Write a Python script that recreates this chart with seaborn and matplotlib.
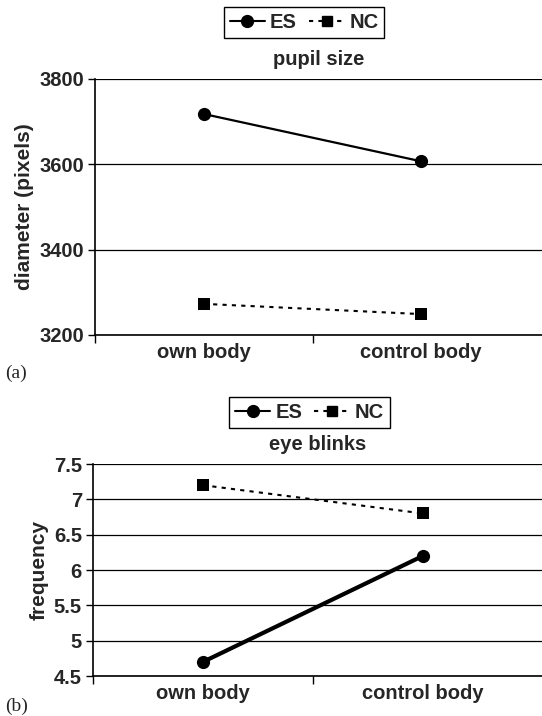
import matplotlib
matplotlib.use("Agg")
import matplotlib.pyplot as plt
import seaborn as sns
import pandas as pd
from matplotlib.ticker import FixedLocator, NullFormatter

sns.set_theme(style="white")
plt.rcParams['font.family'] = ['Liberation Sans', 'DejaVu Sans']

conditions = ["own body", "control body"]
groups = ["ES", "NC"]
pupil_ES = [3718, 3607]
pupil_NC = [3273, 3249]
blink_ES = [4.7, 6.2]
blink_NC = [7.2, 6.8]
pupil_ticks = [3200, 3400, 3600, 3800]
blink_ticks = [4.5, 5, 5.5, 6, 6.5, 7, 7.5]
blink_ticklabels = ["4.5", "5", "5.5", "6", "6.5", "7", "7.5"]

FS = 14.5


def make_df(es, nc):
    rows = []
    for g, vals in zip(groups, [es, nc]):
        for c, v in zip(conditions, vals):
            rows.append({"condition": c, "group": g, "value": v})
    return pd.DataFrame(rows)


fig = plt.figure(figsize=(5.42, 7.16), dpi=100)
ax1 = fig.add_axes([95/542, 1-335/716, (542-95)/542, (335-79)/716])
ax2 = fig.add_axes([93/542, 1-676/716, (542-93)/542, (676-464)/716])


def draw(ax, df, es_lw, ylim, yticks, yticklabels, ylabel, title, leg_x, leg_y, xmax):
    for y in yticks:
        ax.axhline(y, color="black", lw=0.9, zorder=0)
    sns.lineplot(data=df, x="condition", y="value", hue="group", style="group",
                 palette={"ES": "black", "NC": "black"},
                 markers={"ES": "o", "NC": "s"},
                 dashes={"ES": "", "NC": (2, 2.5)},
                 ax=ax, legend=False, markersize=9.5, markeredgewidth=0)
    for l in ax.get_lines():
        if l.get_marker() == "o":
            l.set_linewidth(es_lw)
        elif l.get_marker() == "s":
            l.set_linewidth(1.5)
            l.set_markersize(8.5)
    ax.set_xlim(-0.5, xmax)
    ax.set_ylim(*ylim)
    ax.set_yticks(yticks)
    ax.set_yticklabels(yticklabels, fontsize=FS, fontweight="bold")
    ax.set_xticks([0, 1])
    ax.set_xticklabels(conditions, fontsize=FS, fontweight="bold")
    ax.xaxis.set_minor_locator(FixedLocator([-0.5, 0.5]))
    ax.xaxis.set_minor_formatter(NullFormatter())
    ax.tick_params(axis="x", which="major", length=0, pad=6)
    ax.tick_params(axis="x", which="minor", length=6, width=1, color="black", direction="out", bottom=True)
    ax.tick_params(axis="y", length=5, width=1, color="black", direction="out", left=True, pad=3)
    for s in ["top", "right"]:
        ax.spines[s].set_visible(False)
    for s in ["left", "bottom"]:
        ax.spines[s].set_color("black")
        ax.spines[s].set_linewidth(1.2)
    ax.set_xlabel("")
    ax.set_ylabel(ylabel, fontsize=15, fontweight="bold", labelpad=4)
    ax.set_title(title, fontsize=FS, fontweight="bold", pad=10)
    h_es, = ax.plot([], [], color="black", marker="o", lw=1.5, markersize=8.5)
    h_nc, = ax.plot([], [], color="black", marker="s", lw=1.5, ls=(0, (2, 2.5)), markersize=7.5)
    leg = ax.legend([h_es, h_nc], groups, loc="center", bbox_to_anchor=(leg_x, leg_y),
                    ncol=2, frameon=True, fancybox=False, framealpha=1,
                    edgecolor="black", prop={"weight": "bold", "size": FS},
                    handlelength=1.75, handletextpad=0.25, columnspacing=0.6,
                    borderpad=0.3, borderaxespad=0)
    leg.get_frame().set_linewidth(1.0)


# x positions of categories: 203 and 421 px -> spacing 218 px
xmax1 = 1 + (542 - 421) / 218
xmax2 = 1 + (542 - 423) / 220
draw(ax1, make_df(pupil_ES, pupil_NC), 1.6, (3200, 3800), pupil_ticks,
     [str(t) for t in pupil_ticks], "diameter (pixels)", "pupil size",
     (304-95)/(542-95), 1.219, xmax1)
draw(ax2, make_df(blink_ES, blink_NC), 3.0, (4.5, 7.5), blink_ticks,
     blink_ticklabels, "frequency", "eye blinks",
     (309.5-93)/(542-93), 1.243, xmax2)

fig.text(5/542, 1-378/716, "(a)", family="Liberation Serif", fontsize=14, va="baseline")
fig.text(5/542, 1-711/716, "(b)", family="Liberation Serif", fontsize=14, va="baseline")

fig.savefig("out.png", dpi=100, facecolor="white")
